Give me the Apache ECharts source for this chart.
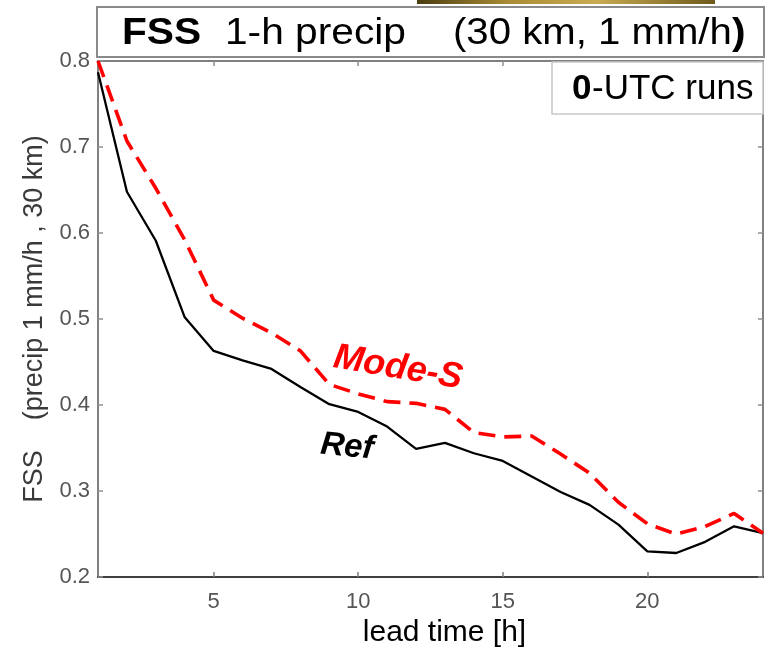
<!DOCTYPE html>
<html><head><meta charset="utf-8">
<script src="https://cdn.jsdelivr.net/npm/echarts@6/dist/echarts.min.js"></script>
<style>html,body{margin:0;padding:0;background:#fff}#c{width:769px;height:653px}</style>
</head><body><div id="c"></div>
<script>
const leadTimes = [1,2,3,4,5,6,7,8,9,10,11,12,13,14,15,16,17,18,19,20,21,22,23,24];
const refFSS = [0.787,0.648,0.591,0.502,0.463,0.452,0.442,0.421,0.401,0.392,0.375,0.349,0.356,0.344,0.335,0.317,0.299,0.284,0.261,0.230,0.228,0.241,0.259,0.251];
const modeSFSS = [0.800,0.707,0.652,0.592,0.522,0.501,0.484,0.463,0.424,0.413,0.404,0.402,0.395,0.368,0.363,0.364,0.343,0.321,0.287,0.262,0.250,0.259,0.274,0.251];
const xTickValues = [5,10,15,20];
const yTickValues = [0.2,0.3,0.4,0.5,0.6,0.7,0.8];
const seriesNames = ['Ref','Mode-S'];

const FF = "'Liberation Sans', Arial, Helvetica, sans-serif";
const chart = echarts.init(document.getElementById('c'), null, {renderer:'canvas'});
const pairs = (vals) => leadTimes.map((t,i)=>[t, vals[i]]);

const option = {
  backgroundColor:'#fff',
  animation:false,
  grid:{left:98, top:61, width:665, height:521, containLabel:false},
  xAxis:[{
    type:'value', min:1, max:24, position:'bottom',
    name:'lead time [h]', nameLocation:'middle', nameGap:38,
    nameTextStyle:{fontFamily:FF, fontSize:30, color:'#000', padding:[0,0,0,28]},
    axisLine:{show:true, onZero:false, lineStyle:{color:'#404040', width:2}},
    axisTick:{show:true, inside:true, length:5, customValues:xTickValues, lineStyle:{color:'#808080', width:1.5}},
    axisLabel:{show:true, customValues:xTickValues, fontFamily:FF, fontSize:22, color:'#555', margin:14},
    splitLine:{show:false}
  },{
    type:'value', min:1, max:24, position:'top',
    axisLine:{show:true, onZero:false, lineStyle:{color:'#808080', width:2}},
    axisTick:{show:true, inside:true, length:5, customValues:xTickValues, lineStyle:{color:'#909090', width:1.5}},
    axisLabel:{show:false}, splitLine:{show:false}
  }],
  yAxis:[{
    type:'value', min:0.2, max:0.8, interval:0.1, position:'left',
    name:'FSS    (precip 1 mm/h , 30 km)', nameLocation:'middle', nameGap:48,
    nameTextStyle:{fontFamily:FF, fontSize:27, color:'#3a3a3a'},
    axisLine:{show:true, onZero:false, lineStyle:{color:'#808080', width:2}},
    axisTick:{show:true, inside:true, length:5, lineStyle:{color:'#909090', width:1.5}},
    axisLabel:{show:true, fontFamily:FF, fontSize:22, color:'#555', margin:8, formatter:(v)=>v.toFixed(1)},
    splitLine:{show:false}
  },{
    type:'value', min:0.2, max:0.8, interval:0.1, position:'right',
    axisLine:{show:true, onZero:false, lineStyle:{color:'#808080', width:2}},
    axisTick:{show:true, inside:true, length:5, lineStyle:{color:'#909090', width:1.5}},
    axisLabel:{show:false}, splitLine:{show:false}
  }],
  series:[{
    name:seriesNames[0], type:'line', xAxisIndex:0, yAxisIndex:0,
    data:pairs(refFSS), symbol:'none', smooth:false,
    lineStyle:{color:'#000', width:2.3}, z:3
  },{
    name:seriesNames[1], type:'line', xAxisIndex:0, yAxisIndex:0,
    data:pairs(modeSFSS), symbol:'none', smooth:false,
    lineStyle:{color:'#ff0000', width:3.6, type:[17,9]}, z:4
  }],
  graphic:[
    {type:'rect', z:100, shape:{x:417, y:0, width:298, height:4},
      style:{fill:new echarts.graphic.LinearGradient(0,0,1,0,[
        {offset:0,color:'#4a3d10'},{offset:0.3,color:'#a88a34'},{offset:0.6,color:'#c9ab52'},{offset:1,color:'#6e5a1c'}])}},
    {type:'rect', z:100, shape:{x:97, y:7, width:667, height:50},
      style:{fill:'#fff', stroke:'#8a8a8a', lineWidth:2}},
    {type:'text', z:101, x:122, y:34, scaleX:1.13,
      style:{text:'FSS', font:'bold 36px '+FF, fill:'#000', textVerticalAlign:'middle'}},
    {type:'text', z:101, x:225, y:34, scaleX:1.13,
      style:{text:'1-h precip', font:'36px '+FF, fill:'#000', textVerticalAlign:'middle'}},
    {type:'text', z:101, x:453, y:34, scaleX:1.115,
      style:{text:'(30 km, 1 mm/h', font:'36px '+FF, fill:'#000', textVerticalAlign:'middle'}},
    {type:'text', z:101, x:732, y:34, scaleX:1.13,
      style:{text:')', font:'bold 36px '+FF, fill:'#000', textVerticalAlign:'middle'}},
    {type:'rect', z:100, shape:{x:552, y:62, width:211, height:52},
      style:{fill:'#fff', stroke:'#c8c8c8', lineWidth:1.5}},
    {type:'text', z:101, x:572, y:89,
      style:{text:'0', font:'bold 35px '+FF, fill:'#000', textVerticalAlign:'middle'}},
    {type:'text', z:101, x:592, y:89,
      style:{text:'-UTC runs', font:'35px '+FF, fill:'#000', textVerticalAlign:'middle'}},
    {type:'text', z:101, x:398, y:368, rotation:-0.165,
      style:{text:'Mode-S', font:'italic bold 36px '+FF, fill:'#ff0000', textAlign:'center', textVerticalAlign:'middle'}},
    {type:'text', z:101, x:347, y:447, rotation:-0.1,
      style:{text:'Ref', font:'italic bold 33px '+FF, fill:'#000', textAlign:'center', textVerticalAlign:'middle'}}
  ]
};
chart.setOption(option);
</script>
</body></html>
